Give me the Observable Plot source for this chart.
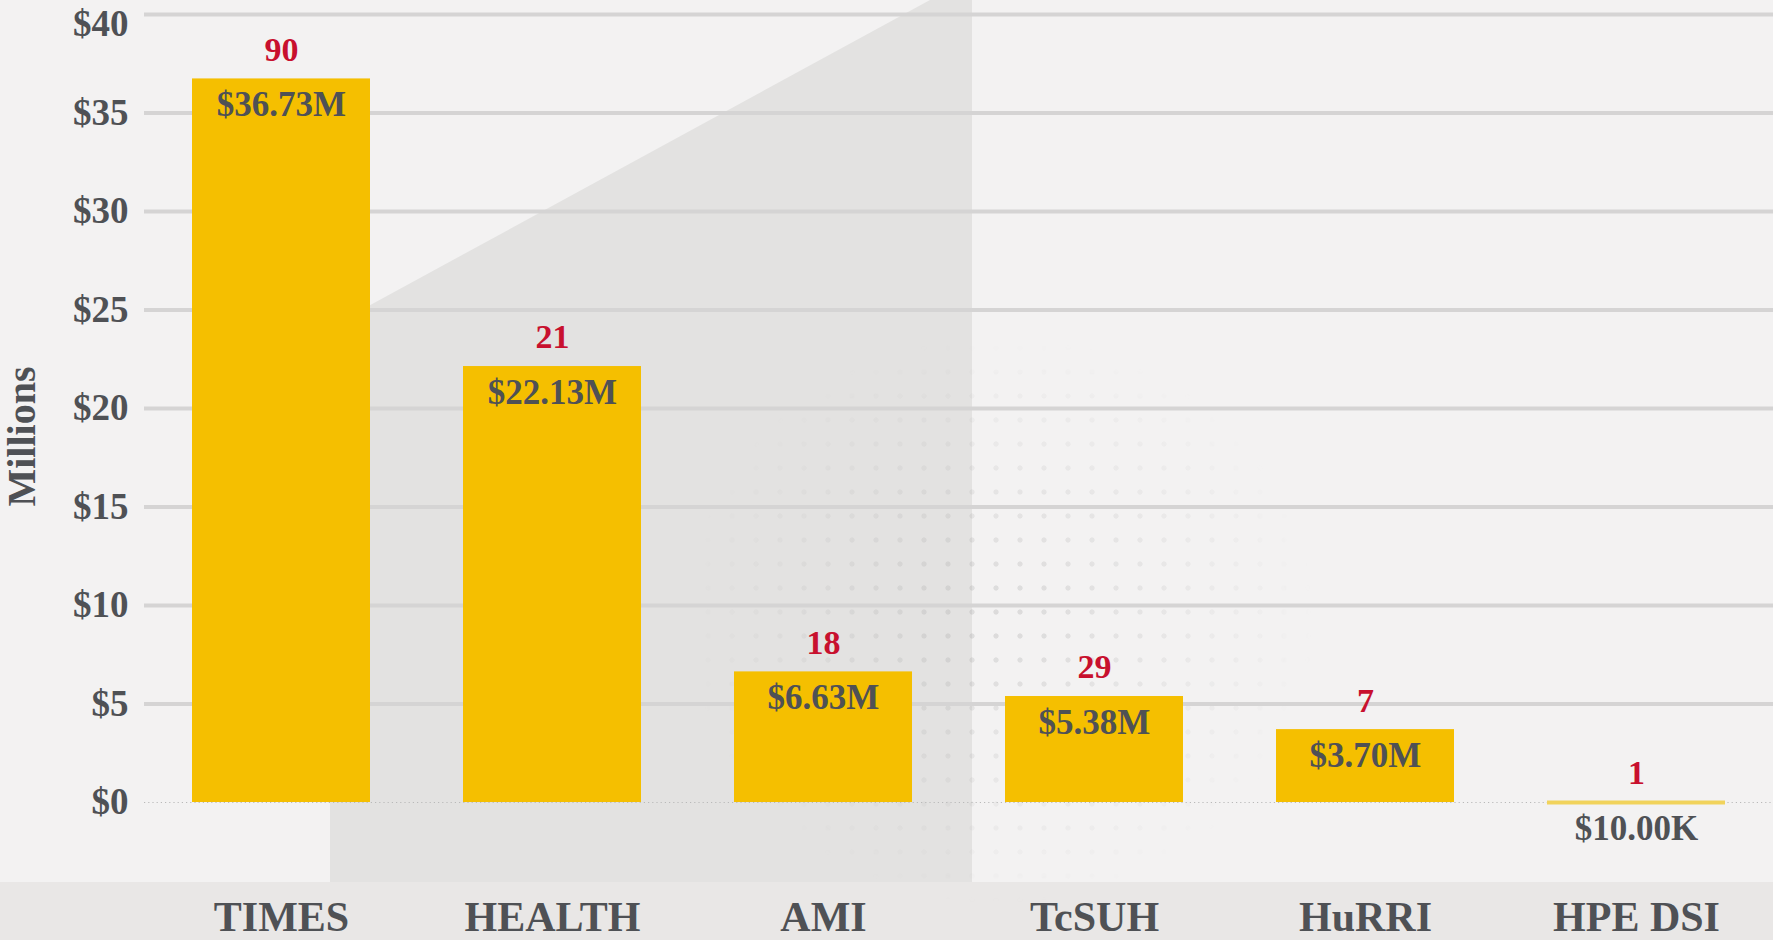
<!DOCTYPE html>
<html>
<head>
<meta charset="utf-8">
<script src="https://cdn.jsdelivr.net/npm/d3@7"></script>
<script src="https://cdn.jsdelivr.net/npm/@observablehq/plot@0.6"></script>
<style>
  html, body { margin: 0; padding: 0; overflow: hidden; background: #f3f2f2; }
  #wrap { position: relative; width: 1773px; height: 940px; }
  .deco { position: absolute; left: 0; top: 0; width: 1773px; height: 940px; }
  #shape { background: #e3e2e1; clip-path: polygon(330px 327px, 930px 0px, 972px 0px, 972px 882px, 330px 882px); }
  #strip { top: 882px; height: 58px; background: #e9e7e6; }
  #dots {
    background-image: radial-gradient(circle, rgba(150,150,150,0.30) 2.2px, transparent 3px);
    background-size: 24px 24px;
    -webkit-mask-image: radial-gradient(ellipse 420px 380px at 1000px 620px, rgba(0,0,0,0.85), transparent 75%);
    mask-image: radial-gradient(ellipse 420px 380px at 1000px 620px, rgba(0,0,0,0.85), transparent 75%);
  }
  #chart { position: absolute; left: 0; top: 0; }
  #chart svg { background: transparent; }
</style>
</head>
<body>
<div id="wrap">
  <div class="deco" id="shape"></div>
  <div class="deco" id="strip"></div>
  <div class="deco" id="dots"></div>
  <div id="chart"></div>
</div>
<script>
// ---- data ----
const units = ["TIMES", "HEALTH", "AMI", "TcSUH", "HuRRI", "HPE DSI"];
const funding = [36.73, 22.13, 6.63, 5.38, 3.70, 0.01];          // $ millions
const awards = [90, 21, 18, 29, 7, 1];
const fundingLabels = ["$36.73M", "$22.13M", "$6.63M", "$5.38M", "$3.70M", "$10.00K"];
const yTicks = [0, 5, 10, 15, 20, 25, 30, 35, 40];
const yLabel = "Millions";

const rows = units.map((u, i) => ({unit: u, value: funding[i], count: awards[i], label: fundingLabels[i]}));
const gridTicks = yTicks.filter(t => t > 0);
const topTick = yTicks.slice(-1);
const otherTicks = yTicks.slice(0, -1);
const tinyBars = rows.filter(d => d.value < 0.2);

const FONT = "'Liberation Serif', 'Times New Roman', serif";
const GOLD = "#f5bf00";
const TEXT = "#4f5155";
const RED = "#c8102e";
const tickStyle = {tickFormat: d => "$" + d, tickSize: 0, tickPadding: 16,
                   fontSize: 37, fontWeight: "bold", fill: TEXT, label: null};

const chart = Plot.plot({
  width: 1773,
  height: 940,
  marginLeft: 144,
  marginRight: 0,
  marginTop: 14,
  marginBottom: 138,
  style: {fontFamily: FONT, background: "transparent", overflow: "visible"},
  x: {domain: units, padding: 0.345, paddingOuter: 0.1725, label: null},
  y: {domain: [0, 40], label: null},
  marks: [
    Plot.ruleY(gridTicks, {stroke: "#d5d4d4", strokeWidth: 4}),
    Plot.ruleY([0], {stroke: "#b9b9b9", strokeWidth: 1.2, strokeDasharray: "1.2,3"}),
    Plot.barY(rows, {x: "unit", y: "value", fill: GOLD}),
    Plot.tickY(tinyBars, {x: "unit", y: 0, stroke: "#f1d35c", strokeWidth: 4}),
    Plot.axisY({...tickStyle, ticks: otherTicks}),
    Plot.axisY({...tickStyle, ticks: topTick, dy: 10}),
    Plot.axisX({tickSize: 0, tickPadding: 99, fontSize: 42, fontWeight: "bold", fill: TEXT, label: null}),
    Plot.text(rows, {x: "unit", y: "value", text: d => String(d.count), dy: -29,
                     lineAnchor: "middle", fontSize: 34, fontWeight: "bold", fill: RED}),
    Plot.text(rows, {x: "unit", y: "value", text: "label", dy: 26,
                     lineAnchor: "middle", fontSize: 35, fontWeight: "bold", fill: TEXT}),
    Plot.text([yLabel], {frameAnchor: "left", text: d => d, rotate: -90, dx: -122, dy: 28,
                         textAnchor: "middle", lineAnchor: "middle",
                         fontSize: 40, fontWeight: "bold", fill: TEXT})
  ]
});
document.getElementById("chart").appendChild(chart);
</script>
</body>
</html>
